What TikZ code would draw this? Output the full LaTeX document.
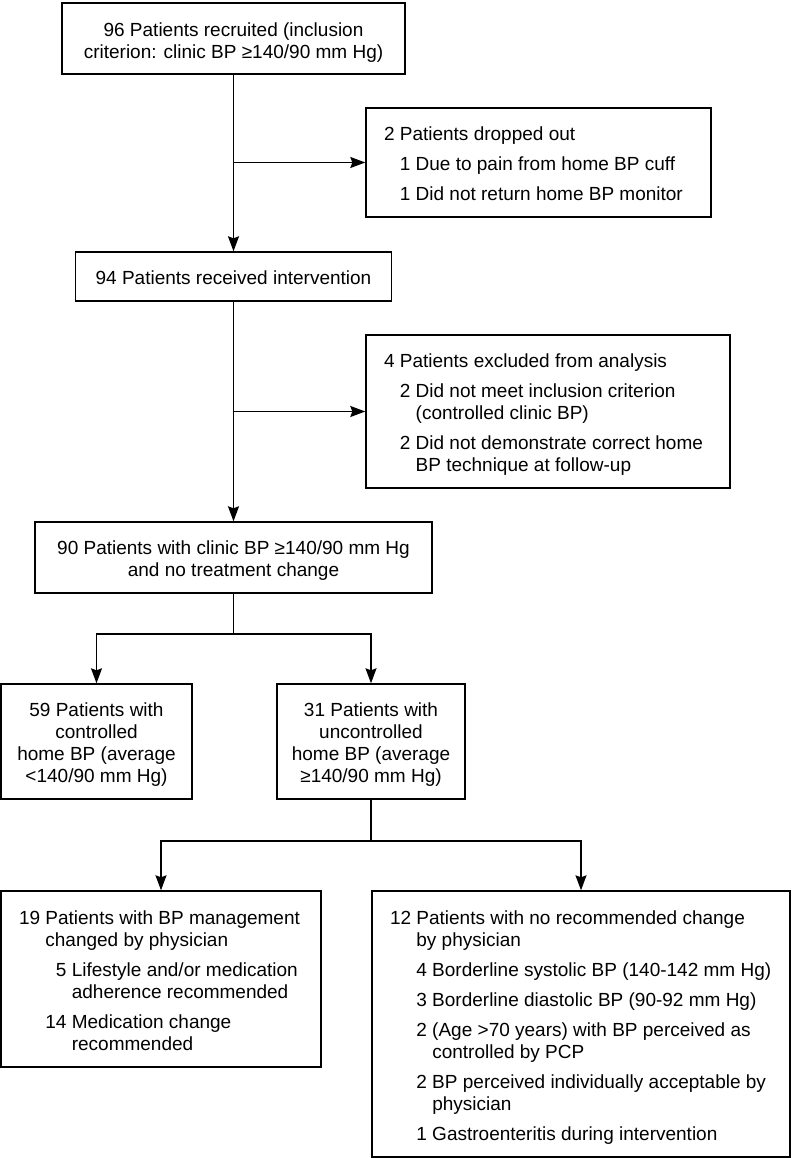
\documentclass[tikz,border=0pt]{standalone}
\usepackage{fontspec}
\setmainfont{Liberation Sans}
\usetikzlibrary{arrows.meta}
\newcommand{\lbox}[2]{\raisebox{-4pt}[\height][\depth]{\makebox[#1][l]{\begin{tabular}{@{}l@{}}#2\end{tabular}}}}
\newcommand{\cbox}[1]{\raisebox{-4pt}[\height][\depth]{\begin{tabular}{@{}c@{}}#1\end{tabular}}}
\begin{document}
\begin{tikzpicture}[x=1pt,y=-1pt,
  box/.style={draw, line width=1.4pt, inner sep=0pt, font=\fontsize{19}{22}\selectfont},
  lbox/.style={box, inner xsep=18pt},
  line/.style={line width=1.4pt},
  arr/.style={line, -{Stealth[length=15pt,width=11pt,inset=2pt]}}]
\useasboundingbox (0,0) rectangle (792,1158);
%%%% main column
\node[box, minimum width=343, minimum height=71] (recruit) at (233.5,38.7) {\cbox{96 Patients recruited (inclusion\\criterion: clinic BP ≥140/90 mm Hg)}};
\node[box, minimum width=316, minimum height=49] (interv) at (233.5,276.5) {\cbox{94 Patients received intervention}};
\node[box, minimum width=397, minimum height=71] (clinic) at (233.5,557.5) {\cbox{90 Patients with clinic BP ≥140/90 mm Hg\\and no treatment change}};
%%%% side boxes
\node[lbox, minimum height=109] (dropout) at (538.5,162.5) {\lbox{309pt}{2 Patients dropped out\\[8pt]
\phantom{2 }1 Due to pain from home BP cuff\\[8pt]
\phantom{2 }1 Did not return home BP monitor}};
\node[lbox, minimum height=153] (exclude) at (548,411.5) {\lbox{328pt}{4 Patients excluded from analysis\\[8pt]
\phantom{4 }2 Did not meet inclusion criterion\\
\phantom{4 2 }(controlled clinic BP)\\[8pt]
\phantom{4 }2 Did not demonstrate correct home\\
\phantom{4 2 }BP technique at follow-up}};
%%%% home BP split
\node[box, minimum width=191, minimum height=115] (ctrl) at (96.5,741.5) {\cbox{59 Patients with\\controlled\\home BP (average\\<140/90 mm Hg)}};
\node[box, minimum width=188, minimum height=115] (unctrl) at (371,741.5) {\cbox{31 Patients with\\uncontrolled\\home BP (average\\≥140/90 mm Hg)}};
%%%% physician decision
\node[lbox, minimum height=176] (changed) at (161,979) {\lbox{284pt}{19 Patients with BP management\\
\phantom{19 }changed by physician\\[8pt]
\phantom{19 1}5 Lifestyle and/or medication\\
\phantom{19 14 }adherence recommended\\[8pt]
\phantom{19 }14 Medication change\\
\phantom{19 14 }recommended}};
\node[lbox, minimum height=266] (nochange) at (581,1024) {\lbox{382pt}{12 Patients with no recommended change\\
\phantom{12 }by physician\\[8pt]
\phantom{12 }4 Borderline systolic BP (140-142 mm Hg)\\[8pt]
\phantom{12 }3 Borderline diastolic BP (90-92 mm Hg)\\[8pt]
\phantom{12 }2 (Age >70 years) with BP perceived as\\
\phantom{12 2 }controlled by PCP\\[8pt]
\phantom{12 }2 BP perceived individually acceptable by\\
\phantom{12 2 }physician\\[8pt]
\phantom{12 }1 Gastroenteritis during intervention}};
%%%% connectors
\coordinate (j1) at (recruit.south |- dropout.west);
\coordinate (j2) at (interv.south |- exclude.west);
\coordinate (split1) at (233.5,634);
\coordinate (split2) at (371,841);
\draw[arr] (recruit) -- (interv);
\draw[arr] (j1) -- (dropout);
\draw[arr] (interv) -- (clinic);
\draw[arr] (j2) -- (exclude);
\draw[line] (clinic) -- (split1);
\draw[arr] (split1) -| (ctrl.north);
\draw[arr] (split1) -| (unctrl.north);
\draw[line] (unctrl) -- (split2);
\draw[arr] (split2) -| (changed.north);
\draw[arr] (split2) -| (nochange.north);
\end{tikzpicture}
\end{document}
